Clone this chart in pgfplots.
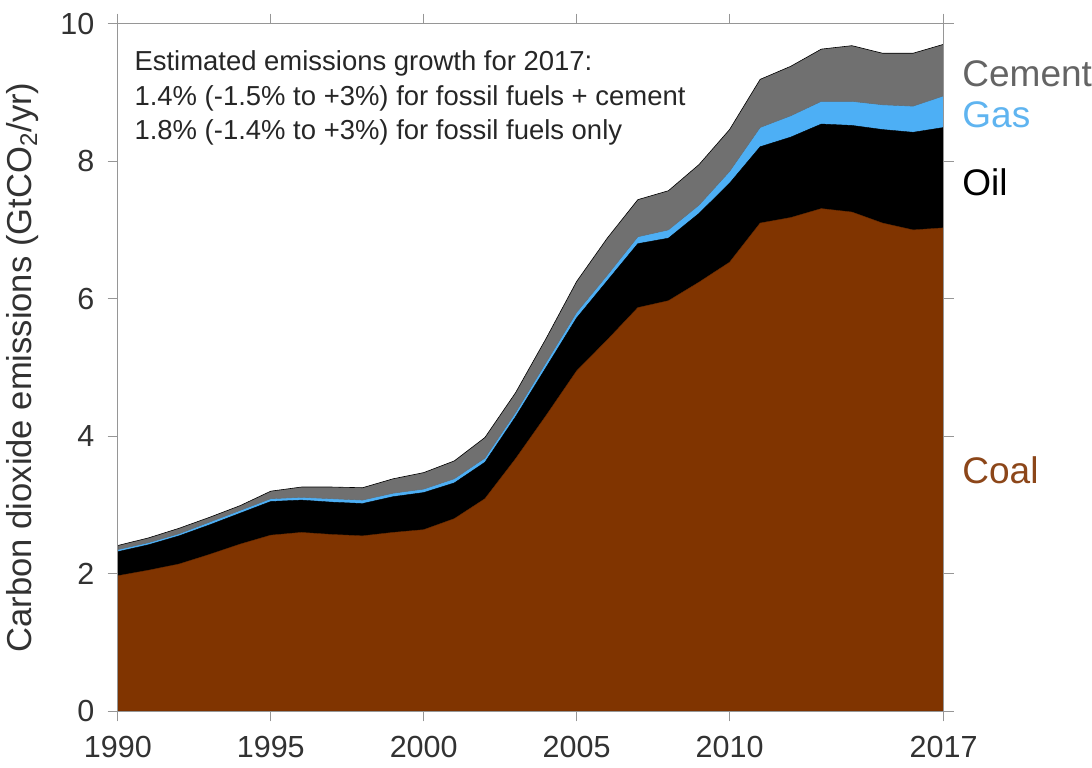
\documentclass[border={0pt 1pt 0pt 3pt}]{standalone}
\usepackage{pgfplots}
\usepackage{pgfplotstable}
\pgfplotsset{compat=1.18}
\usepackage{fontspec}
\setmainfont{Liberation Sans}
\definecolor{coalc}{RGB}{128,52,0}
\definecolor{gasc}{RGB}{77,175,245}
\definecolor{cemc}{RGB}{112,112,112}
\definecolor{coaltxt}{RGB}{140,70,25}
\definecolor{gastxt}{RGB}{95,180,240}
\definecolor{cemtxt}{RGB}{100,100,100}
\definecolor{axc}{RGB}{150,150,150}
\definecolor{tlc}{RGB}{50,50,50}
% cumulative tops (GtCO2/yr)
\pgfplotstableread{
year coal oil gas total
1990 1.97 2.32 2.35 2.41
1991 2.05 2.42 2.45 2.52
1992 2.14 2.55 2.58 2.66
1993 2.28 2.71 2.75 2.82
1994 2.43 2.88 2.92 2.99
1995 2.56 3.05 3.09 3.20
1996 2.60 3.07 3.11 3.26
1997 2.57 3.04 3.09 3.26
1998 2.55 3.02 3.07 3.25
1999 2.60 3.12 3.17 3.38
2000 2.64 3.18 3.23 3.47
2001 2.80 3.32 3.38 3.64
2002 3.09 3.62 3.68 3.98
2003 3.67 4.28 4.34 4.63
2004 4.30 5.00 5.07 5.42
2005 4.95 5.72 5.80 6.25
2006 5.40 6.26 6.34 6.88
2007 5.87 6.80 6.90 7.44
2008 5.97 6.88 7.00 7.57
2009 6.24 7.24 7.36 7.95
2010 6.53 7.68 7.85 8.46
2011 7.10 8.21 8.49 9.19
2012 7.18 8.35 8.66 9.38
2013 7.31 8.54 8.87 9.63
2014 7.26 8.52 8.87 9.68
2015 7.10 8.46 8.82 9.57
2016 7.00 8.42 8.80 9.57
2017 7.03 8.49 8.95 9.70
}\emis
\begin{document}
\begin{tikzpicture}
\begin{axis}[
  scale only axis,
  width=406pt, height=338pt,
  xmin=1990, xmax=2017, ymin=0, ymax=10,
  xtick={1990,1995,2000,2005,2010,2017},
  xticklabels={1990,1995,2000,2005,2010,2017},
  ytick={0,2,4,6,8,10},
  tick align=outside,
  major tick length=5pt,
  axis line style={axc, line width=0.6pt},
  tick style={axc, line width=0.6pt},
  ticklabel style={font=\fontsize{15}{18}\selectfont, text=tlc},
  /pgf/number format/assume math mode=true,
  /pgf/number format/1000 sep={},
  xticklabel style={yshift=-4pt},
  yticklabel style={xshift=-3pt},
  ylabel={Carbon dioxide emissions (GtCO\textsubscript{2}/yr)},
  ylabel style={at={(axis description cs:-0.115,0.5)}, anchor=center, font=\fontsize{17}{20}\selectfont, text=tlc},
  axis on top,
  clip=false,
]
\addplot[fill=cemc, draw=black, line width=0.3pt] table[x=year, y=total] {\emis} \closedcycle;
\addplot[fill=gasc, draw=black!60, line width=0.2pt] table[x=year, y=gas] {\emis} \closedcycle;
\addplot[fill=black, draw=black, line width=0.2pt] table[x=year, y=oil] {\emis} \closedcycle;
\addplot[fill=coalc, draw=coalc!80!black, line width=0.2pt] table[x=year, y=coal] {\emis} \closedcycle;

\node[anchor=north west, align=left, font=\fontsize{13.5}{17}\selectfont, text=black!85, inner sep=0pt]
  at (axis description cs:0,1) [xshift=8pt, yshift=-13pt]
  {Estimated emissions growth for 2017:\\
   1.4\% (-1.5\% to +3\%) for fossil fuels + cement\\
   1.8\% (-1.4\% to +3\%) for fossil fuels only};

\node[anchor=west, font=\fontsize{18.2}{21}\selectfont, text=cemtxt, inner sep=0pt] at (axis cs:2017,9.27) [xshift=9pt] {Cement};
\node[anchor=west, font=\fontsize{18.2}{21}\selectfont, text=gastxt, inner sep=0pt] at (axis cs:2017,8.68) [xshift=9pt] {Gas};
\node[anchor=west, font=\fontsize{18.2}{21}\selectfont, text=black, inner sep=0pt] at (axis cs:2017,7.69) [xshift=9pt] {Oil};
\node[anchor=west, font=\fontsize{18.2}{21}\selectfont, text=coaltxt, inner sep=0pt] at (axis cs:2017,3.51) [xshift=9pt] {Coal};
\end{axis}
\end{tikzpicture}
\end{document}
